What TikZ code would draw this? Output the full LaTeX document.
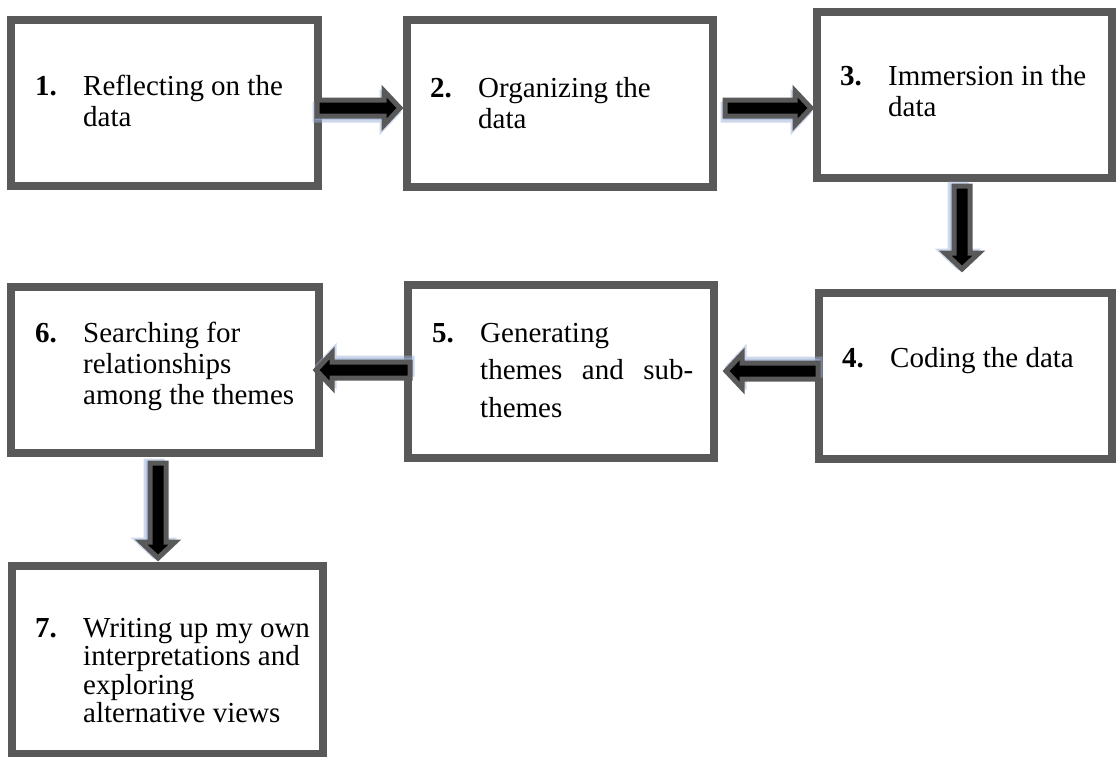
\documentclass[tikz,border=0pt]{standalone}
\usepackage{fontspec}
\setmainfont{Liberation Serif}
\usetikzlibrary{calc}

\definecolor{frame}{HTML}{595959}
\definecolor{shade}{HTML}{9DB2D8}

\tikzset{
  stage/.style={draw=frame, line width=8pt, fill=white, inner sep=0pt,
    anchor=north west, minimum width=#1},
  stagetext/.style={anchor=base west, inner sep=0pt, align=left,
    font=\fontsize{29}{31}\selectfont},
  arrowbody/.style={draw=frame, fill=black, line width=5pt, line join=miter},
  arrowshade/.style={draw=shade, fill=shade, line width=5pt, line join=miter, opacity=0.5},
}

% block arrow from #1 to the tip #2; #3 is the offset of its soft shadow
\newcommand\blockarrow[3]{%
  \coordinate (hb) at ($(#2)!16pt!(#1)$);
  \begin{scope}[transform canvas={shift={#3}}]
    \path[arrowshade]
      ($(#1)!8pt!90:(#2)$) -- ($(hb)!8pt!-90:(#1)$) -- ($(hb)!17pt!-90:(#1)$) -- (#2)
      -- ($(hb)!17pt!90:(#1)$) -- ($(hb)!8pt!90:(#1)$) -- ($(#1)!8pt!-90:(#2)$) -- cycle;
  \end{scope}
  \path[arrowbody]
    ($(#1)!8pt!90:(#2)$) -- ($(hb)!8pt!-90:(#1)$) -- ($(hb)!17pt!-90:(#1)$) -- (#2)
    -- ($(hb)!17pt!90:(#1)$) -- ($(hb)!8pt!90:(#1)$) -- ($(#1)!8pt!-90:(#2)$) -- cycle;
}

% numbered entry: bold number, then the text in a hanging column
\newcommand\entry[3]{\makebox[48pt][l]{\bfseries #1}\parbox[t]{#2}{#3}}

\begin{document}
\begin{tikzpicture}[x=1pt, y=-1pt]
  \useasboundingbox (0,0) rectangle (1118,756);

  % stages
  \node[stage=307pt, minimum height=166pt] (b1) at (7,16) {};
  \node[stage=306pt, minimum height=167pt] (b2) at (403,16) {};
  \node[stage=295pt, minimum height=166pt] (b3) at (813,8) {};
  \node[stage=293pt, minimum height=166pt] (b4) at (815,289) {};
  \node[stage=306pt, minimum height=173pt] (b5) at (404,281) {};
  \node[stage=308pt, minimum height=166pt] (b6) at (7,283) {};
  \node[stage=311pt, minimum height=188pt] (b7) at (8,562) {};

  % stage texts
  \node[stagetext] (t1) at ($(b1.north west)+(28,79)$)
    {\entry{1.}{230pt}{\raggedright Reflecting on the\\data}};
  \node[stagetext] (t2) at ($(b2.north west)+(27,81)$)
    {\entry{2.}{220pt}{\raggedright Organizing the\\data}};
  \node[stagetext] (t3) at ($(b3.north west)+(27,77)$)
    {\entry{3.}{220pt}{\raggedright Immersion in the\\data}};
  \node[stagetext] (t4) at ($(b4.north west)+(27,78)$)
    {\entry{4.}{220pt}{\raggedright Coding the data}};
  \node[stagetext, font=\fontsize{29}{37.5}\selectfont] (t5) at ($(b5.north west)+(28,61)$)
    {\entry{5.}{213pt}{Generating\\themes\hfill and\hfill sub-\\themes}};
  \node[stagetext] (t6) at ($(b6.north west)+(28,59)$)
    {\entry{6.}{230pt}{\raggedright Searching for\\relationships\\among the themes}};
  \node[stagetext, font=\fontsize{29}{28.5}\selectfont] (t7) at ($(b7.north west)+(27,75)$)
    {\entry{7.}{236pt}{\raggedright Writing up my own\\interpretations and\\exploring\\alternative views}};

  % arrow ends
  \coordinate (s12) at ([xshift=-5pt, yshift=-5pt]b1.east);
  \coordinate (e12) at ([xshift=-3pt, yshift=-4.5pt]b2.west);
  \coordinate (s23) at ([xshift=8pt, yshift=-4.5pt]b2.east);
  \coordinate (e23) at ([xshift=-2pt, yshift=-13pt]b3.west);
  \coordinate (s34) at ([xshift=-2.5pt, yshift=-4pt]b3.south);
  \coordinate (e34) at ([xshift=-3.5pt, yshift=20pt]b4.north);
  \coordinate (s45) at ([xshift=3pt, yshift=5pt]b4.west);
  \coordinate (e45) at ([xshift=8pt, yshift=0.5pt]b5.east);
  \coordinate (s56) at ([xshift=6pt, yshift=1.5pt]b5.west);
  \coordinate (e56) at ([xshift=-7pt]b6.east);
  \coordinate (s67) at ([xshift=-7pt, yshift=-6pt]b6.south);
  \coordinate (e67) at ([xshift=-9.5pt, yshift=4pt]b7.north);

  % connectors
  \blockarrow{s12}{e12}{(-2,4)}
  \blockarrow{s23}{e23}{(-2,4)}
  \blockarrow{s34}{e34}{(-4,-2)}
  \blockarrow{s45}{e45}{(2,-4)}
  \blockarrow{s56}{e56}{(2,-4)}
  \blockarrow{s67}{e67}{(-4,-2)}
\end{tikzpicture}
\end{document}
